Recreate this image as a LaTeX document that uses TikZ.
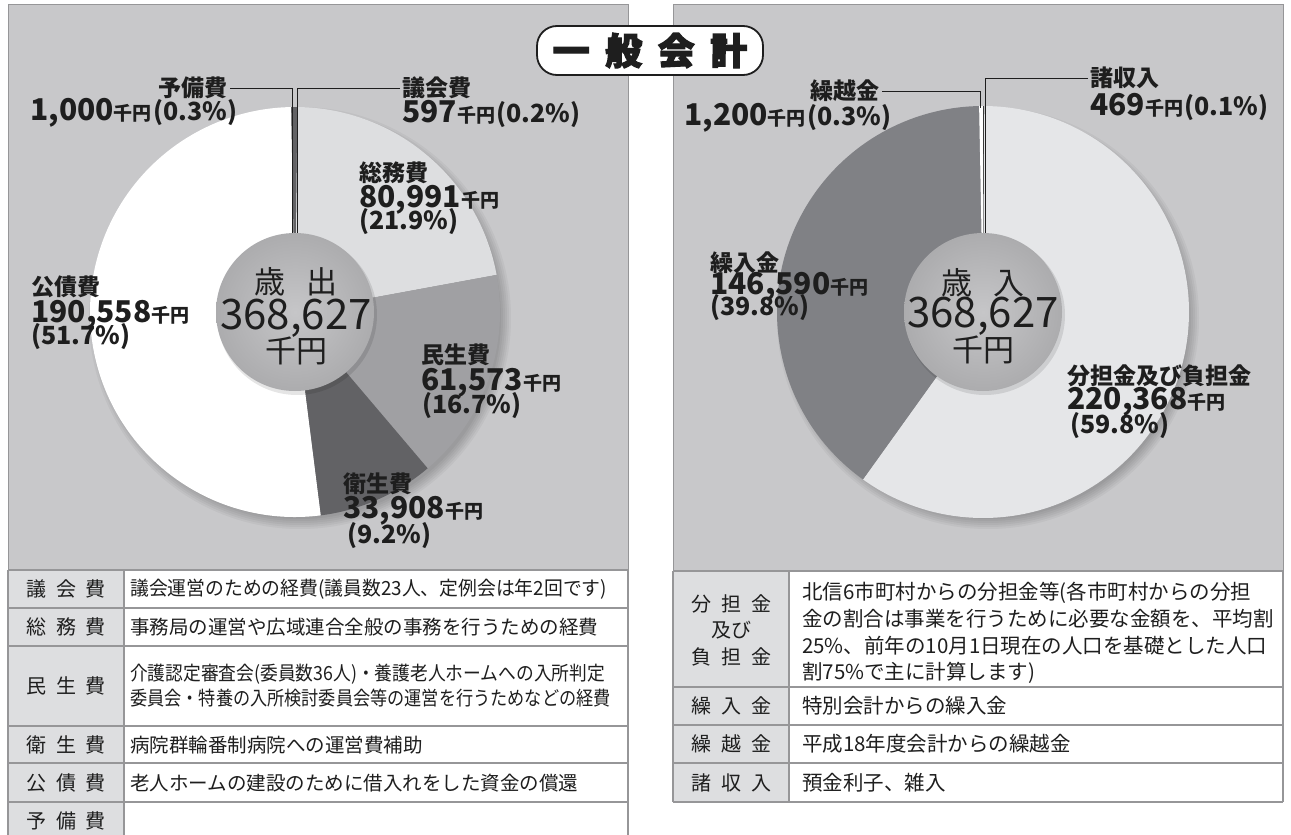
\documentclass[tikz,border=0pt]{standalone}
\usepackage{fontspec}
\setmainfont{Noto Sans CJK JP}
\newfontfamily\titlefont{Noto Sans CJK JP}[BoldFeatures={FakeBold=3}]
\usepackage{graphicx}

\definecolor{panelgray}{RGB}{200,200,202}
\definecolor{lightslice}{RGB}{221,222,224}
\definecolor{midslice}{RGB}{160,160,163}
\definecolor{darkslice}{RGB}{98,98,101}
\definecolor{paleslice}{RGB}{229,230,232}
\definecolor{greyslice}{RGB}{128,129,133}
\definecolor{hublight}{RGB}{198,198,200}
\definecolor{hubdark}{RGB}{172,172,174}
\definecolor{cellgray}{RGB}{221,222,224}
\definecolor{rulegray}{RGB}{150,150,152}
\definecolor{ink}{RGB}{30,30,30}

\newcommand{\sen}[1]{{\fontsize{30}{32}\selectfont #1}{\fontsize{19}{20}\selectfont 千円}}
\newcommand{\pct}[1]{{\fontsize{25}{27}\selectfont (#1\%)}}
\newcommand{\gap}{\hspace{0.5em}}

\begin{document}
\begin{tikzpicture}[x=1pt,y=-1pt,
  head/.style={inner sep=0pt,text=ink,font=\bfseries\fontsize{23}{25}\selectfont},
  figs/.style={inner sep=0pt,text=ink,font=\bfseries},
  hub/.style={inner sep=0pt,text=ink,font=\fontsize{31}{33}\selectfont},
  leader/.style={draw=ink,line width=1pt},
  rule/.style={draw=rulegray,line width=1.2pt},
  cellhead/.style={inner sep=0pt,text=ink,align=center,font=\fontsize{20}{26.5}\selectfont},
  celltext/.style={inner sep=0pt,text=ink,anchor=west,align=left,font=\fontsize{19.5}{25}\selectfont},
  celltextr/.style={celltext,font=\fontsize{20.5}{26.7}\selectfont}]

\useasboundingbox (0,0) rectangle (1291,835);
\fill[white] (0,0) rectangle (1291,835);

\fill[panelgray] (8,4) rectangle (628,570);
\fill[panelgray] (673,4) rectangle (1283,571);
\draw[rule,line width=0.8pt] (8,570) -- (8,4) -- (628,4) -- (628,570);
\draw[rule,line width=0.8pt] (673,571) -- (673,4) -- (1283,4) -- (1283,571);

\coordinate (lpie) at (295,312);
\foreach \k in {1,...,6}
  \fill[black,opacity=0.04] ([shift={(5,6)}]lpie) circle[radius=199+2*\k];
\foreach \a/\b/\col in {-90/-89.28/darkslice,-89.28/-10.44/lightslice,-10.44/49.68/midslice,49.68/82.8/darkslice,82.8/268.92/white,268.92/270/darkslice}
  \fill[\col] (lpie) -- ++(\a:205) arc[start angle=\a,end angle=\b,radius=205] -- cycle;
\fill[black,opacity=0.10] ([shift={(2,3)}]lpie) circle[radius=80];
\shade[inner color=hublight,outer color=hubdark] (lpie) circle[radius=79];

\coordinate (rpie) at (983,312);
\foreach \k in {1,...,6}
  \fill[black,opacity=0.04] ([shift={(5,6)}]rpie) circle[radius=199+2*\k];
\foreach \a/\b/\col in {-90/-89.64/ink,-89.64/125.64/paleslice,125.64/268.92/greyslice,268.92/270/white}
  \fill[\col] (rpie) -- ++(\a:206) arc[start angle=\a,end angle=\b,radius=206] -- cycle;
\fill[black,opacity=0.10] ([shift={(2,3)}]rpie) circle[radius=80];
\shade[inner color=hublight,outer color=hubdark] (rpie) circle[radius=79];

\node (title) at (650,50.5) [draw=ink,fill=white,line width=1.8pt,rounded corners=20pt,minimum width=226pt,minimum height=49pt,inner sep=0pt,text=ink,font=\titlefont\bfseries\fontsize{37}{40}\selectfont] {一\hspace{0.42em}般\hspace{0.42em}会\hspace{0.42em}計};

\node (yobi) at (228,88) [head,left] {予備費};
\node (yobival) at (30,113) [figs,right] {\sen{1,000}\,\pct{0.3}};
\node (gikai) at (402,88) [head,right] {議会費};
\node (gikaival) at (402,114) [figs,right] {\sen{597}\,\pct{0.2}};
\coordinate (yobitip) at (292,233);
\coordinate (gikaitip) at (297,233);
\draw[leader] ([xshift=2pt]yobi.east) -| (yobitip);
\draw[leader] ([xshift=-2pt]gikai.west) -| (gikaitip);

\node (somu) at (359,173) [head,right] {総務費};
\node (somuval) at (359,200) [figs,right] {\sen{80,991}};
\node (somupct) at (359,222) [figs,right] {\pct{21.9}};
\node (kosai) at (31,287) [head,right] {公債費};
\node (kosaival) at (31,315) [figs,right] {\sen{190,558}};
\node (kosaipct) at (31,337) [figs,right] {\pct{51.7}};
\node (minsei) at (421,355) [head,right] {民生費};
\node (minseival) at (421,383) [figs,right] {\sen{61,573}};
\node (minseipct) at (422,406) [figs,right] {\pct{16.7}};
\node (eisei) at (343,484) [head,right] {衛生費};
\node (eiseival) at (343,511) [figs,right] {\sen{33,908}};
\node (eiseipct) at (347,536) [figs,right] {\pct{9.2}};

\node (lhubA) at (296,282) [hub] {歳\hspace{0.65em}出};
\node (lhubB) at (296,318) [hub,font=\fontsize{42}{44}\selectfont] {368,627};
\node (lhubC) at (296,351) [hub] {千円};

\node (kurikoshi) at (880,91) [head,left] {繰越金};
\node (kurikoshival) at (684,118) [figs,right] {\sen{1,200}\,\pct{0.3}};
\node (shosyu) at (1090,78) [head,right] {諸収入};
\node (shosyuval) at (1090,107) [figs,right] {\sen{469}\,\pct{0.1}};
\coordinate (kurikoshitip) at (980,108);
\coordinate (shosyutip) at (985,233);
\draw[leader] ([xshift=2pt]kurikoshi.east) -| (kurikoshitip);
\draw[leader] ([xshift=-2pt]shosyu.west) -| (shosyutip);

\node (kurire) at (710,263) [head,right] {繰入金};
\node (kurireval) at (710,287) [figs,right] {\sen{146,590}};
\node (kurirepct) at (710,308) [figs,right] {\pct{39.8}};
\node (futan) at (1067,376) [head,right] {分担金及び負担金};
\node (futanval) at (1067,402) [figs,right] {\sen{220,368}};
\node (futanpct) at (1070,426) [figs,right] {\pct{59.8}};

\node (rhubA) at (983,283) [hub] {歳\hspace{0.65em}入};
\node (rhubB) at (983,316) [hub,font=\fontsize{42}{44}\selectfont] {368,627};
\node (rhubC) at (983,350) [hub] {千円};

\fill[cellgray] (8,570) rectangle (124,840);
\fill[white] (124,570) rectangle (628,840);
\foreach \y in {570,608,646,726,763,802}
  \draw[rule] (8,\y) -- (628,\y);
\draw[rule] (8,570) -- (8,840) (124,570) -- (124,840) (628,570) -- (628,840);

\node (lhead1) at (66,589) [cellhead] {議\gap 会\gap 費};
\node (lhead2) at (66,627) [cellhead] {総\gap 務\gap 費};
\node (lhead3) at (66,686) [cellhead] {民\gap 生\gap 費};
\node (lhead4) at (66,745) [cellhead] {衛\gap 生\gap 費};
\node (lhead5) at (66,783) [cellhead] {公\gap 債\gap 費};
\node (lhead6) at (66,821) [cellhead] {予\gap 備\gap 費};
\node (ltext1) at (130,589) [celltext] {\scalebox{0.965}[1]{議会運営のための経費(議員数23人、定例会は年2回です)}};
\node (ltext2) at (130,627) [celltext] {事務局の運営や広域連合全般の事務を行うための経費};
\node (ltext3) at (130,686) [celltext] {\scalebox{0.91}[1]{介護認定審査会(委員数36人)・養護老人ホームへの入所判定}\\\scalebox{0.88}[1]{委員会・特養の入所検討委員会等の運営を行うためなどの経費}};
\node (ltext4) at (130,745) [celltext] {病院群輪番制病院への運営費補助};
\node (ltext5) at (130,783) [celltext] {老人ホームの建設のために借入れをした資金の償還};

\fill[cellgray] (673,571) rectangle (789,802);
\fill[white] (789,571) rectangle (1283,802);
\foreach \y in {571,687,725,763,802}
  \draw[rule] (673,\y) -- (1283,\y);
\draw[rule] (673,571) -- (673,802) (789,571) -- (789,802) (1283,571) -- (1283,802);

\node (rhead1) at (731,630) [cellhead] {分\gap 担\gap 金\\及び\\負\gap 担\gap 金};
\node (rhead2) at (731,706) [cellhead] {繰\gap 入\gap 金};
\node (rhead3) at (731,744) [cellhead] {繰\gap 越\gap 金};
\node (rhead4) at (731,783) [cellhead] {諸\gap 収\gap 入};
\node (rtext1) at (802,633) [celltextr] {北信6市町村からの分担金等(各市町村からの分担\\金の割合は事業を行うために必要な金額を、平均割\\25\%、前年の10月1日現在の人口を基礎とした人口\\割75\%で主に計算します)};
\node (rtext2) at (802,706) [celltextr] {特別会計からの繰入金};
\node (rtext3) at (802,744) [celltextr] {平成18年度会計からの繰越金};
\node (rtext4) at (802,783) [celltextr] {預金利子、雑入};

\end{tikzpicture}
\end{document}
